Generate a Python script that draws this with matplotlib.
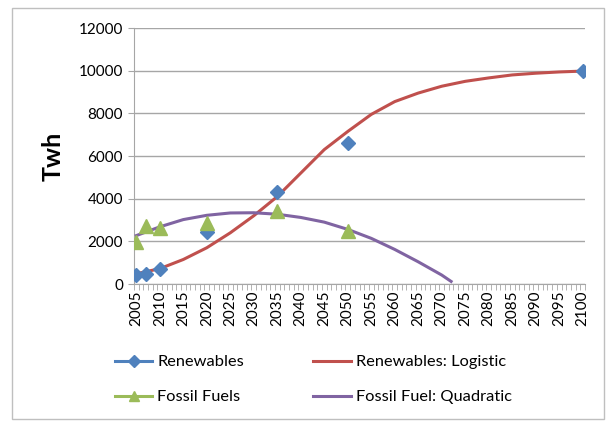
import matplotlib
matplotlib.use("Agg")
import matplotlib.pyplot as plt
from matplotlib.lines import Line2D
from matplotlib.patches import Rectangle
import numpy as np

# observed data points
ren_years = [2005, 2007, 2010, 2020, 2035, 2050, 2100]
ren_twh = [420, 480, 700, 2420, 4320, 6620, 10000]

fossil_years = [2005, 2007, 2010, 2020, 2035, 2050]
fossil_twh = [1950, 2740, 2640, 2860, 3400, 2480]

# fitted curves
fit_years = [2005, 2010, 2015, 2020, 2025, 2030, 2035, 2040, 2045, 2050,
             2055, 2060, 2065, 2070, 2075, 2080, 2085, 2090, 2095, 2100]
logistic_twh = [480, 720, 1150, 1700, 2400, 3200, 4100, 5200, 6300, 7150,
                7950, 8550, 8950, 9270, 9500, 9660, 9800, 9880, 9940, 9980]

quad_years = [2005, 2010, 2015, 2020, 2025, 2030, 2035, 2040, 2045, 2050,
              2055, 2060, 2065, 2070, 2072]
quad_twh = [2270, 2680, 3020, 3220, 3330, 3340, 3270, 3120, 2900, 2560,
            2140, 1620, 1040, 420, 120]

blue = '#4F81BD'
red = '#C0504D'
green = '#9BBB59'
purple = '#8064A2'
grey = '#A6A6A6'

plt.rcParams['font.family'] = ['Lato', 'DejaVu Sans']

fig = plt.figure(figsize=(6.1, 4.22), dpi=100)
fig.patches.append(Rectangle((12/610, 1 - 419/422), 592/610, 411/422,
                             transform=fig.transFigure, fill=False,
                             edgecolor='#BFBFBF', lw=1))
ax = fig.add_axes([134/610, 1 - 284/422, 451/610, 256/422])

ax.plot(fit_years, logistic_twh, color=red, lw=2.2, zorder=3)
ax.plot(quad_years, quad_twh, color=purple, lw=2.2, zorder=3)
ax.plot(ren_years, ren_twh, ls='none', marker='D', ms=7.5, color=blue, zorder=4)
ax.plot(fossil_years, fossil_twh, ls='none', marker='^', ms=9.5, color=green, zorder=5)

ax.set_xlim(2004.5, 2100.5)
ax.set_ylim(0, 12000)
ax.set_yticks(np.arange(0, 12001, 2000))
ax.set_xticks(np.arange(2005, 2101, 5))
ax.set_xticks(np.arange(2004.5, 2101, 1), minor=True)
ax.tick_params(axis='x', which='major', length=0, labelrotation=90, labelsize=11, pad=5)
ax.tick_params(axis='x', which='minor', length=4, color=grey, direction='out')
ax.tick_params(axis='y', length=4, color=grey, labelsize=11, pad=4)
ax.grid(axis='y', color=grey, lw=1)
ax.set_axisbelow(True)
for s in ['top', 'right']:
    ax.spines[s].set_visible(False)
for s in ['left', 'bottom']:
    ax.spines[s].set_color(grey)
ax.set_ylabel('Twh', fontsize=18, fontweight='bold', labelpad=10)

handles = [
    Line2D([], [], color=blue, lw=2.2, marker='D', ms=6),
    Line2D([], [], color=green, lw=2.2, marker='^', ms=7),
    Line2D([], [], color=red, lw=2.2),
    Line2D([], [], color=purple, lw=2.2),
]
labels = ['Renewables', 'Fossil Fuels', 'Renewables: Logistic', 'Fossil Fuel: Quadratic']
fig.legend(handles, labels, ncol=2, loc='lower left', bbox_to_anchor=(100/610, 3/422),
           frameon=False, fontsize=11.8, handlelength=2.3, handletextpad=0.3,
           columnspacing=4.2, labelspacing=1.25)

fig.savefig('out.png', dpi=100)
